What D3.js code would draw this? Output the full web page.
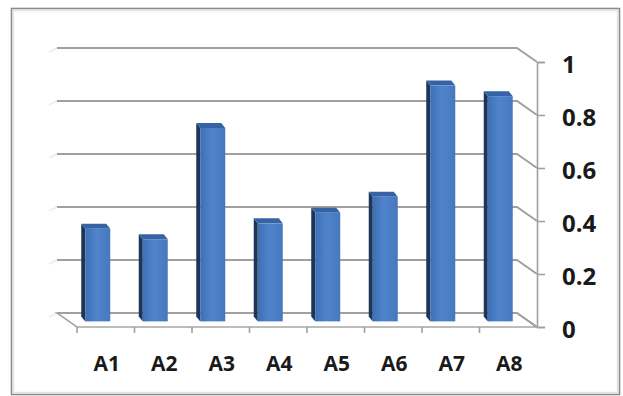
<!DOCTYPE html>
<html>
<head>
<meta charset="utf-8">
<script src="https://cdn.jsdelivr.net/npm/d3@7"></script>
<style>
  html, body { margin: 0; padding: 0; background: #fff; }
  svg { display: block; }
</style>
</head>
<body>
<svg id="chart" width="623" height="396"></svg>
<script>
// Data
const categories = ["A1", "A2", "A3", "A4", "A5", "A6", "A7", "A8"];
const values = [0.35, 0.31, 0.73, 0.37, 0.41, 0.47, 0.89, 0.85];
const tickValues = [0, 0.2, 0.4, 0.6, 0.8, 1];
const tickLabels = ["0", "0.2", "0.4", "0.6", "0.8", "1"];

const svg = d3.select("#chart");

// Back wall plane
const wall = { left: 57, right: 517, top: 48, bottom: 313 };
// Depth offset from back wall to front edge
const depth = { dx: 20, dy: 14 };
// Bars sit this far into the depth (0 = back wall, 1 = front)
const barT = 0.6;
// Offset of the bar's back face from its front face
const barBack = { dx: -4, dy: -5 };

const x = d3.scaleBand().domain(categories).range([wall.left, wall.right]);
const y = d3.scaleLinear().domain([0, 1]).range([wall.bottom, wall.top]);

const proj = (px, py, t) => [px + t * depth.dx, py + t * depth.dy];

// Outer border
svg.append("rect")
  .attr("x", 11.5).attr("y", 8.5)
  .attr("width", 608).attr("height", 386)
  .attr("fill", "#fff")
  .attr("stroke", "#8a8a8a").attr("stroke-width", 1.6);
svg.append("rect")
  .attr("x", 13.5).attr("y", 10.5)
  .attr("width", 604).attr("height", 382)
  .attr("fill", "none")
  .attr("stroke", "#e4e4e4").attr("stroke-width", 1.5);

const g = svg.append("g");

// Left side wall edges (very faint)
tickValues.forEach(v => {
  g.append("path")
    .attr("d", `M${wall.left - 8},${y(v) + 4}L${wall.left},${y(v)}`)
    .attr("stroke", "#ececec").attr("stroke-width", 1.5).attr("fill", "none");
});

// Floor
const floorPts = [
  [wall.left, wall.bottom], [wall.right, wall.bottom],
  proj(wall.right, wall.bottom, 1), proj(wall.left, wall.bottom, 1)
];
g.append("path")
  .attr("d", d3.line()(floorPts) + "Z")
  .attr("fill", "#fff")
  .attr("stroke", "#a6a6a6").attr("stroke-width", 1.6);

// Gridlines on the back wall, with the diagonal running to the value axis
tickValues.forEach(v => {
  const yy = y(v);
  const [ex, ey] = proj(wall.right, yy, 1);
  g.append("path")
    .attr("d", `M${wall.left},${yy}L${wall.right},${yy}L${ex},${ey}`)
    .attr("fill", "none")
    .attr("stroke", "#a0a0a0").attr("stroke-width", 2);
});

// Value axis on the front-right edge
const axisX = wall.right + depth.dx;
const yFront = d3.scaleLinear().domain([0, 1])
  .range([wall.bottom + depth.dy, wall.top + depth.dy]);
const axisG = g.append("g")
  .attr("transform", `translate(${axisX},0)`)
  .call(d3.axisRight(yFront).tickValues(tickValues)
    .tickFormat((d, i) => tickLabels[i]).tickSize(8).tickPadding(17));
axisG.select(".domain").attr("stroke", "#a0a0a0").attr("stroke-width", 1.6);
axisG.selectAll(".tick line").attr("stroke", "#a0a0a0").attr("stroke-width", 1.6);
axisG.selectAll(".tick text")
  .attr("fill", "#1a1a1a")
  .attr("dy", "0.42em")
  .style("font-family", "'Open Sans', sans-serif")
  .style("font-weight", "700")
  .style("font-size", "24px");

// Category axis along the front edge of the floor
const xFront = d3.scaleBand().domain(categories)
  .range([wall.left + depth.dx, wall.right + depth.dx]);
const catG = g.append("g")
  .attr("transform", `translate(0,${wall.bottom + depth.dy})`);
xFront.domain().forEach(c => {
  const tx = xFront(c);
  catG.append("line")
    .attr("x1", tx).attr("x2", tx).attr("y1", 0).attr("y2", 6)
    .attr("stroke", "#a0a0a0").attr("stroke-width", 1.6);
});
catG.selectAll("text.cat")
  .data(categories)
  .join("text")
  .attr("class", "cat")
  .attr("x", d => xFront(d) + xFront.bandwidth() / 2 + 1)
  .attr("y", 44)
  .attr("text-anchor", "middle")
  .attr("fill", "#1a1a1a")
  .style("font-family", "'Open Sans', sans-serif")
  .style("font-weight", "700")
  .style("font-size", "21px")
  .text(d => d);

// Bar colours
const defs = svg.append("defs");
const grad = defs.append("linearGradient").attr("id", "barFront")
  .attr("x1", "0").attr("x2", "1").attr("y1", "0").attr("y2", "0");
grad.append("stop").attr("offset", "0").attr("stop-color", "#3f6fb4");
grad.append("stop").attr("offset", "0.45").attr("stop-color", "#4f84cc");
grad.append("stop").attr("offset", "1").attr("stop-color", "#4678be");

// 3D bars
const barW = 25;
const bars = g.append("g").selectAll("g.bar")
  .data(categories.map((c, i) => ({ c, v: values[i] })))
  .join("g").attr("class", "bar");

bars.each(function (d) {
  const sel = d3.select(this);
  const cx = x(d.c) + x.bandwidth() / 2;
  const [fcx, fy0] = proj(cx, y(0), barT);
  const [, fy1] = proj(cx, y(d.v), barT);
  const x0 = fcx - barW / 2, x1 = fcx + barW / 2;
  const bx = barBack.dx, by = barBack.dy;
  // left side face
  sel.append("path")
    .attr("d", d3.line()([[x0, fy0], [x0, fy1], [x0 + bx, fy1 + by], [x0 + bx, fy0 + by]]) + "Z")
    .attr("fill", "#1d3557");
  // top face
  sel.append("path")
    .attr("d", d3.line()([[x0, fy1], [x1, fy1], [x1 + bx, fy1 + by], [x0 + bx, fy1 + by]]) + "Z")
    .attr("fill", "#3563a3");
  // front face
  sel.append("rect")
    .attr("x", x0).attr("y", fy1)
    .attr("width", barW).attr("height", fy0 - fy1)
    .attr("fill", "url(#barFront)");
});
</script>
</body>
</html>
